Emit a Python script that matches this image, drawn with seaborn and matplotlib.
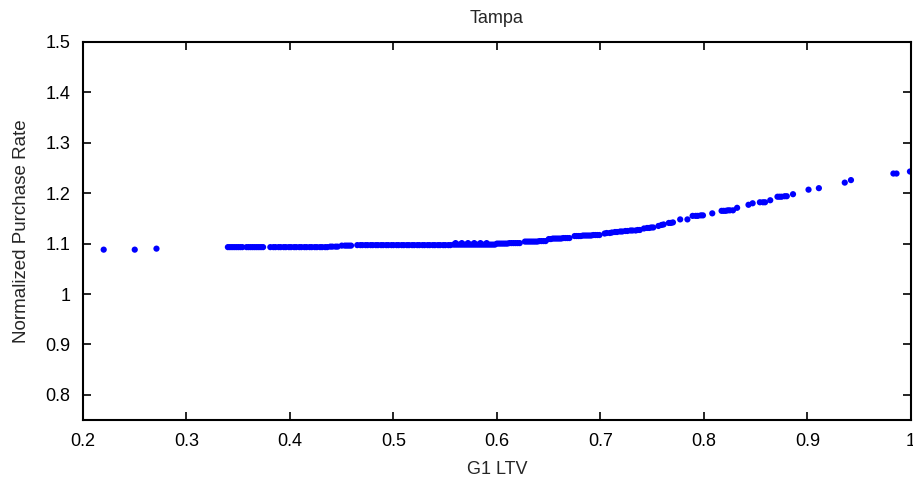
import matplotlib
matplotlib.use('Agg')

import matplotlib.pyplot as plt
import numpy as np
import pandas as pd
import seaborn as sns

sns.set_style("ticks")
plt.rcParams['font.family'] = ['Liberation Sans', 'DejaVu Sans']

# values
ltv = [
    0.220, 0.250, 0.271,
    0.340, 0.342, 0.344, 0.346, 0.348, 0.350, 0.352, 0.354,
    0.358, 0.360, 0.362, 0.364, 0.366, 0.368, 0.370, 0.372, 0.374,
    0.381, 0.384, 0.386, 0.389, 0.391, 0.394, 0.396, 0.399, 0.401, 0.404,
    0.406, 0.409, 0.411, 0.414, 0.416, 0.419, 0.421, 0.424, 0.426, 0.429,
    0.431, 0.434, 0.436, 0.439, 0.441, 0.444, 0.446,
    0.450, 0.453, 0.455, 0.457, 0.459,
    0.465, 0.468, 0.470, 0.473, 0.475, 0.478, 0.480, 0.483, 0.485, 0.488,
    0.490, 0.493, 0.495, 0.498, 0.500, 0.503, 0.505, 0.508, 0.510, 0.513,
    0.515, 0.518, 0.520, 0.523, 0.525, 0.528, 0.530, 0.533, 0.535, 0.538,
    0.540, 0.543, 0.545, 0.548, 0.550, 0.553, 0.555,
    0.558, 0.560, 0.562, 0.564, 0.566, 0.568, 0.570, 0.572, 0.574, 0.576,
    0.578, 0.580, 0.582, 0.584, 0.586, 0.588, 0.590, 0.592, 0.594, 0.596, 0.598,
    0.560, 0.566, 0.572, 0.578, 0.584, 0.590,
    0.600, 0.602, 0.604, 0.606, 0.608, 0.610, 0.612, 0.614, 0.616, 0.618, 0.620, 0.622,
    0.627, 0.629, 0.631, 0.633, 0.635, 0.637, 0.639, 0.641, 0.643, 0.645, 0.647,
    0.650, 0.652, 0.654, 0.656, 0.658, 0.660, 0.662, 0.664, 0.666, 0.668, 0.670,
    0.675, 0.677, 0.679, 0.681, 0.683, 0.685, 0.687, 0.689, 0.691, 0.693, 0.695,
    0.697, 0.699,
    0.704, 0.706, 0.709, 0.711, 0.714, 0.716, 0.719, 0.721, 0.724, 0.726,
    0.729, 0.731, 0.734, 0.736, 0.738,
    0.742, 0.745, 0.747, 0.749, 0.751, 0.756, 0.759, 0.761, 0.766, 0.768, 0.770,
    0.777, 0.784, 0.789, 0.792, 0.794, 0.797, 0.799, 0.808,
    0.817, 0.819, 0.821, 0.823, 0.825, 0.828, 0.832, 0.843, 0.847,
    0.854, 0.857, 0.859, 0.864, 0.871, 0.873, 0.875, 0.878, 0.880, 0.886,
    0.901, 0.911, 0.936, 0.942, 0.983, 0.986, 0.999,
]
rate = [
    1.088, 1.088, 1.090,
    1.093, 1.093, 1.093, 1.093, 1.093, 1.093, 1.093, 1.093,
    1.093, 1.093, 1.093, 1.093, 1.093, 1.093, 1.093, 1.093, 1.093,
    1.093, 1.093, 1.093, 1.093, 1.093, 1.093, 1.093, 1.093, 1.093, 1.093,
    1.093, 1.093, 1.093, 1.093, 1.093, 1.093, 1.093, 1.093, 1.093, 1.093,
    1.093, 1.093, 1.093, 1.094, 1.094, 1.094, 1.094,
    1.096, 1.096, 1.096, 1.096, 1.096,
    1.097, 1.097, 1.097, 1.097, 1.097, 1.097, 1.097, 1.097, 1.097, 1.097,
    1.097, 1.097, 1.097, 1.097, 1.097, 1.097, 1.097, 1.097, 1.097, 1.097,
    1.097, 1.097, 1.097, 1.097, 1.097, 1.097, 1.097, 1.097, 1.097, 1.097,
    1.097, 1.097, 1.097, 1.097, 1.097, 1.097, 1.097,
    1.098, 1.098, 1.098, 1.098, 1.098, 1.098, 1.098, 1.098, 1.098, 1.098,
    1.098, 1.098, 1.098, 1.098, 1.098, 1.098, 1.098, 1.098, 1.098, 1.098, 1.098,
    1.101, 1.101, 1.101, 1.101, 1.101, 1.101,
    1.100, 1.100, 1.100, 1.100, 1.100, 1.100, 1.101, 1.101, 1.101, 1.101, 1.101, 1.101,
    1.104, 1.104, 1.104, 1.104, 1.104, 1.104, 1.104, 1.105, 1.105, 1.105, 1.105,
    1.109, 1.109, 1.110, 1.110, 1.110, 1.110, 1.110, 1.111, 1.111, 1.111, 1.111,
    1.115, 1.115, 1.115, 1.115, 1.116, 1.116, 1.116, 1.116, 1.116, 1.117, 1.117,
    1.117, 1.117,
    1.120, 1.121, 1.121, 1.122, 1.123, 1.123, 1.124, 1.124, 1.125, 1.125,
    1.126, 1.126, 1.126, 1.127, 1.127,
    1.130, 1.131, 1.131, 1.132, 1.132, 1.135, 1.137, 1.138, 1.141, 1.141, 1.142,
    1.148, 1.148, 1.155, 1.155, 1.155, 1.156, 1.156, 1.160,
    1.165, 1.165, 1.165, 1.166, 1.166, 1.166, 1.171, 1.177, 1.180,
    1.182, 1.182, 1.182, 1.186, 1.193, 1.193, 1.193, 1.194, 1.194, 1.198,
    1.207, 1.210, 1.221, 1.226, 1.239, 1.239, 1.243,
]
df = pd.DataFrame({'G1 LTV': ltv, 'Normalized Purchase Rate': rate})

fig = plt.figure(figsize=(9.13, 4.82), dpi=100)
ax = fig.add_axes([0.0909, 0.1286, 0.9069, 0.7843])

sns.scatterplot(data=df, x='G1 LTV', y='Normalized Purchase Rate', ax=ax,
                color='#0000ff', s=20, edgecolor='none', linewidth=0, legend=False)

ax.set_xlim(0.2, 1.0)
ax.set_ylim(0.75, 1.5)
xt = [0.2, 0.3, 0.4, 0.5, 0.6, 0.7, 0.8, 0.9, 1.0]
yt = [0.8, 0.9, 1.0, 1.1, 1.2, 1.3, 1.4, 1.5]
ax.set_xticks(xt)
ax.set_xticklabels(['0.2', '0.3', '0.4', '0.5', '0.6', '0.7', '0.8', '0.9', '1'])
ax.set_yticks(yt)
ax.set_yticklabels(['0.8', '0.9', '1', '1.1', '1.2', '1.3', '1.4', '1.5'])
ax.tick_params(direction='in', length=6, width=1.2, top=True, right=True,
               labelsize=13, colors='black', pad=9)
for sp in ax.spines.values():
    sp.set_visible(True)
    sp.set_linewidth(1.5)
    sp.set_color('black')

ax.set_xlabel('G1 LTV', fontsize=13, labelpad=8)
ax.set_ylabel('Normalized Purchase Rate', fontsize=13.5, labelpad=11)
ax.set_title('Tampa', fontsize=13, pad=14)

fig.savefig('out.png', dpi=100)
